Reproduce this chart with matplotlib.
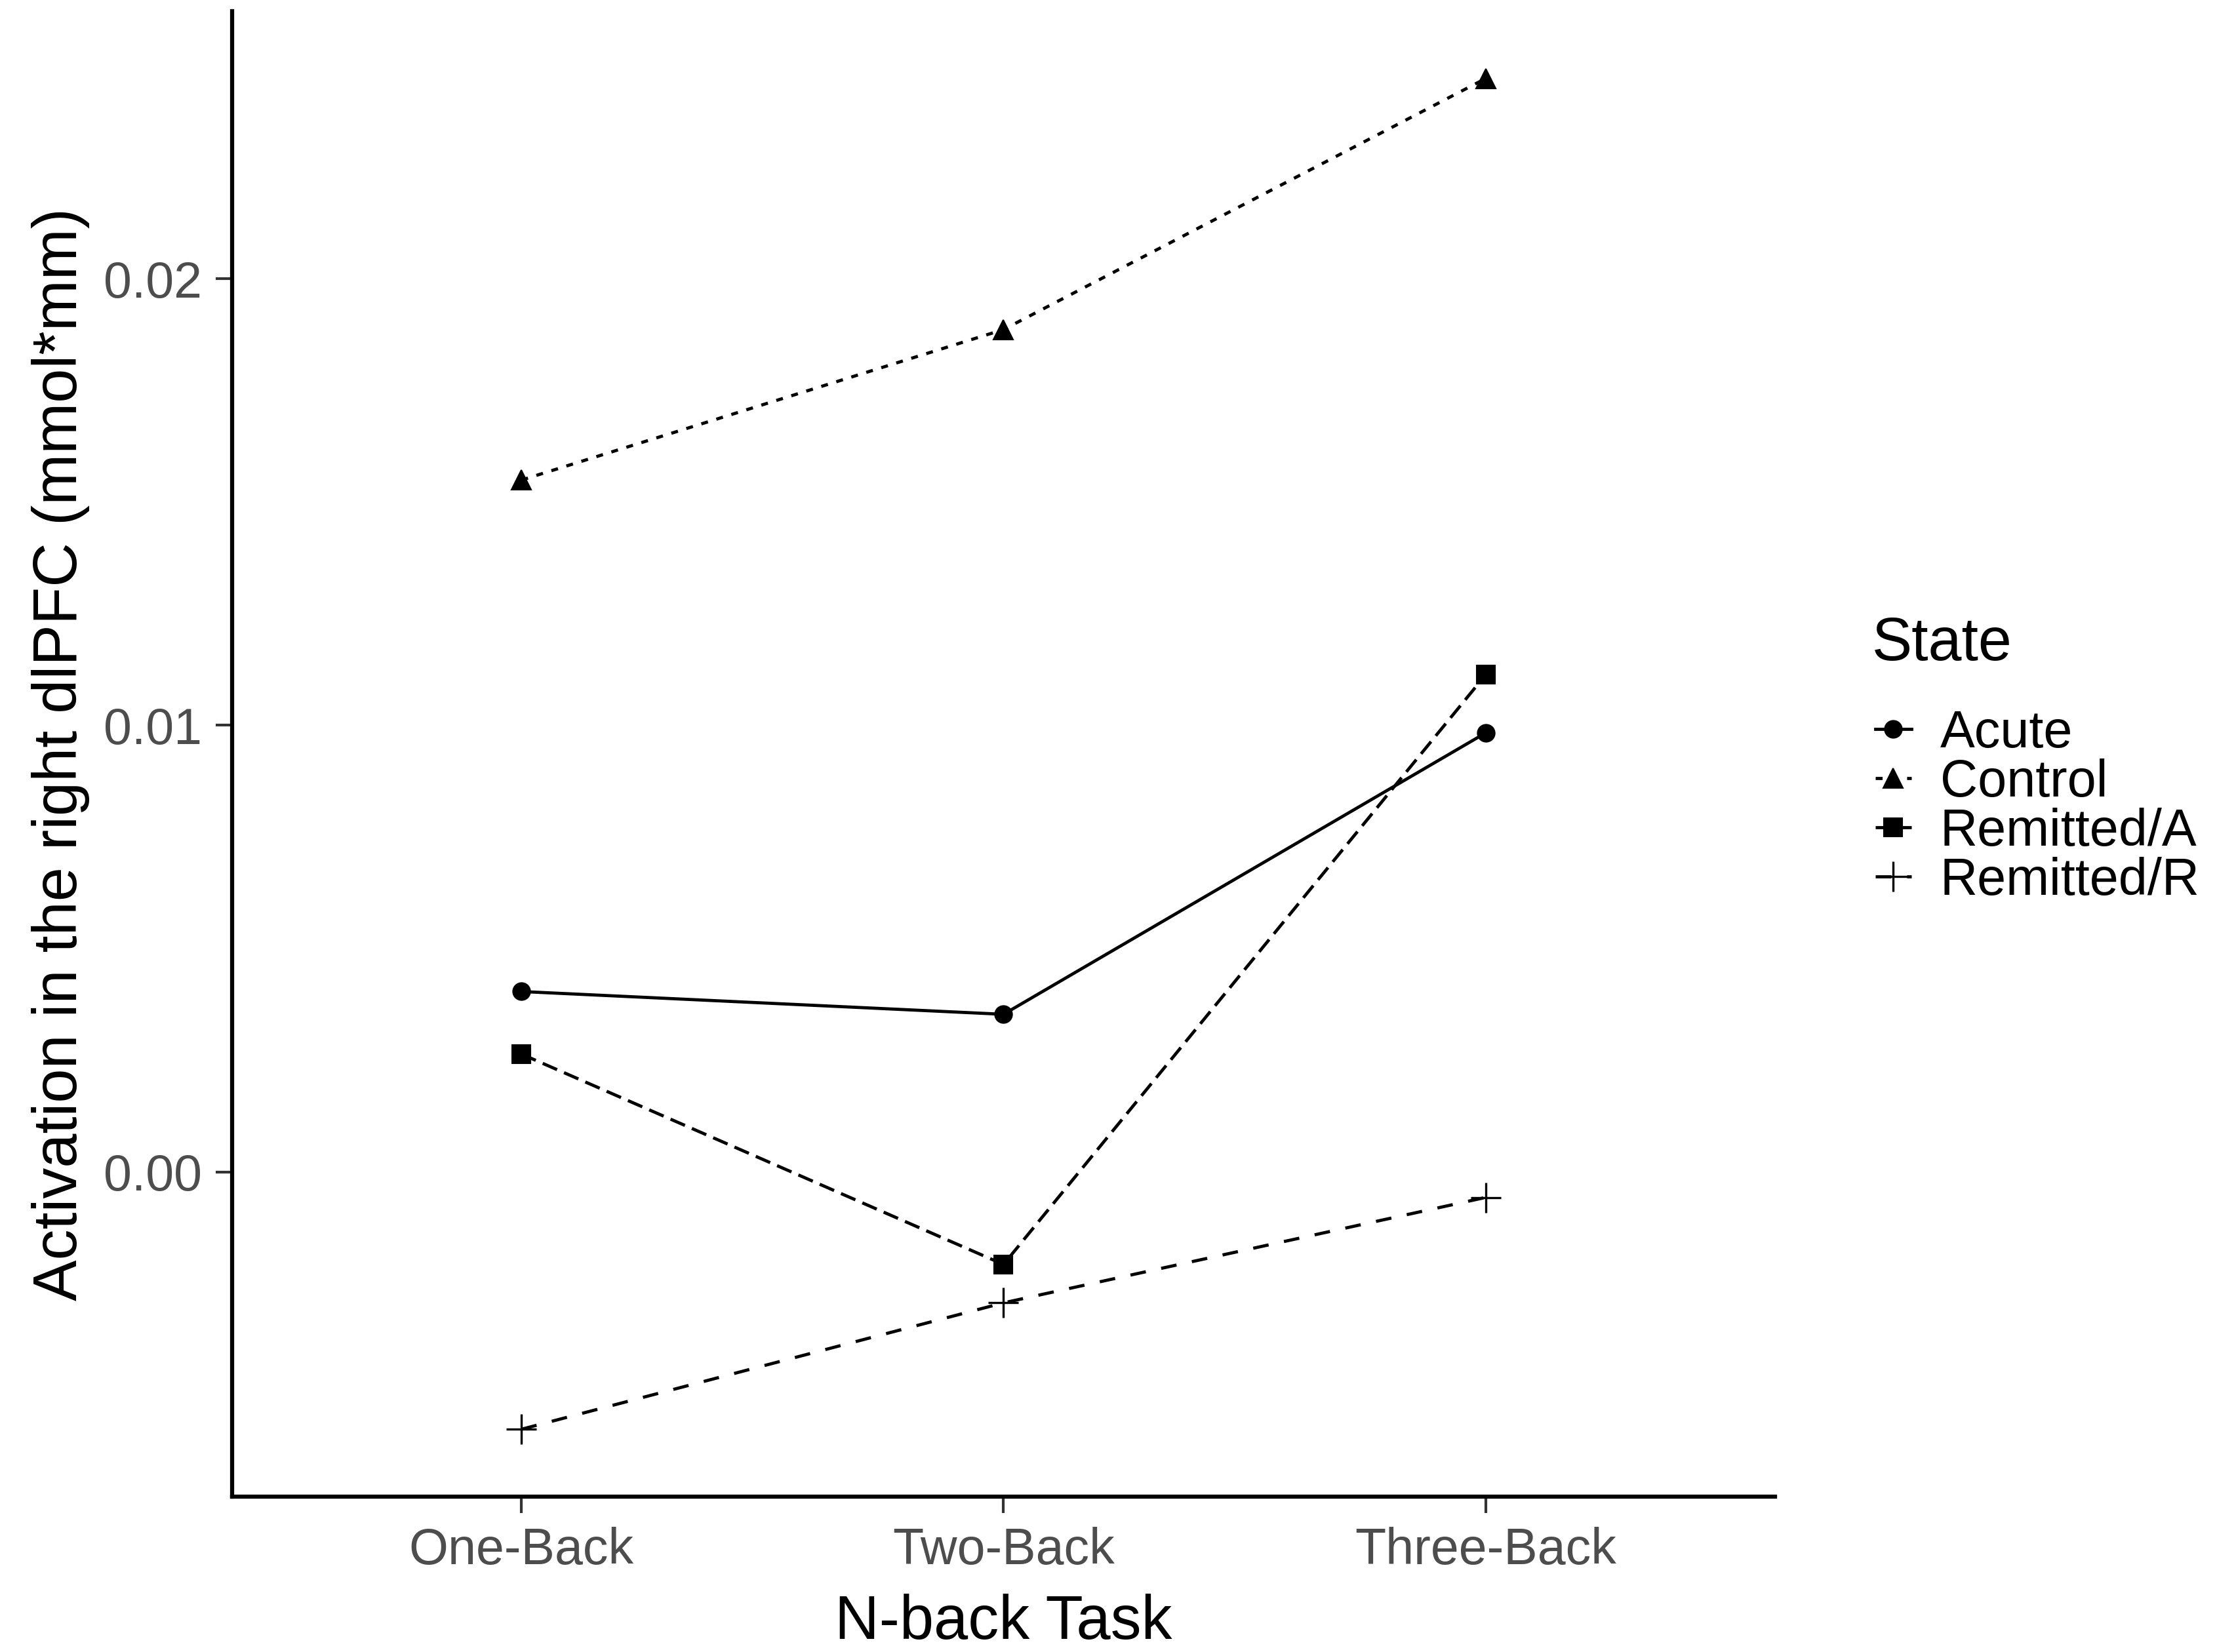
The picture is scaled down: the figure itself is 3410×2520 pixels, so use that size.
import numpy as np
import matplotlib
matplotlib.use("Agg")
import matplotlib.pyplot as plt

plt.rcParams['font.family'] = ['Liberation Sans', 'DejaVu Sans']

# Data
tasks = ["One-Back", "Two-Back", "Three-Back"]
states = ["Acute", "Control", "Remitted/A", "Remitted/R"]
acute = [0.00404, 0.00353, 0.00983]
control = [0.01549, 0.01886, 0.02448]
remitted_a = [0.00264, -0.00207, 0.01113]
remitted_r = [-0.00576, -0.00293, -0.00057]

series = [acute, control, remitted_a, remitted_r]
markers = ["o", "^", "s", "+"]
msizes = [6.3, 7, 6.8, 11]
dashes = [None, (2.2, 2.8), (5.0, 2.4), (5.0, 5.0)]

fig = plt.figure(figsize=(3410 / 300, 2520 / 300), dpi=300)
ax = fig.add_axes([0.1038, 0.094, 0.69, 0.8993])

x = np.arange(1, len(tasks) + 1)
for name, vals, m, ms, d in zip(states, series, markers, msizes, dashes):
    line, = ax.plot(x, vals, color="black", lw=1.15, marker=m, markersize=ms,
                    markeredgewidth=0.8 if m == "+" else 0.5, label=name)
    if d is not None:
        line.set_dashes(d)

ax.set_xlim(0.4, 3.6)
ax.set_ylim(-0.00727, 0.02599)
ax.set_xticks(x)
ax.set_xticklabels(tasks)
ax.set_yticks([0.0, 0.01, 0.02])
ax.set_yticklabels(["0.00", "0.01", "0.02"])

for s in ["top", "right"]:
    ax.spines[s].set_visible(False)
for s in ["left", "bottom"]:
    ax.spines[s].set_linewidth(1.5)
ax.tick_params(length=6, width=1.0, color="#333333", labelcolor="#4D4D4D",
               labelsize=18.5, pad=5)

ax.set_xlabel("N-back Task", fontsize=22.5, labelpad=7)
ax.set_ylabel("Activation in the right dlPFC (mmol*mm)", fontsize=22.5, labelpad=5)

# legend items and title placed separately to match the spacing
leg = ax.legend(loc="center left", frameon=False, fontsize=19,
                handlelength=0.7, handletextpad=0.55, labelspacing=0.0,
                borderpad=0, borderaxespad=0)
leg.set_bbox_to_anchor((0.8386, 0.5112), transform=fig.transFigure)
fig.text(0.8372, 0.6099, "State", fontsize=22, ha="left", va="center")

fig.savefig("out.png", dpi=300)
